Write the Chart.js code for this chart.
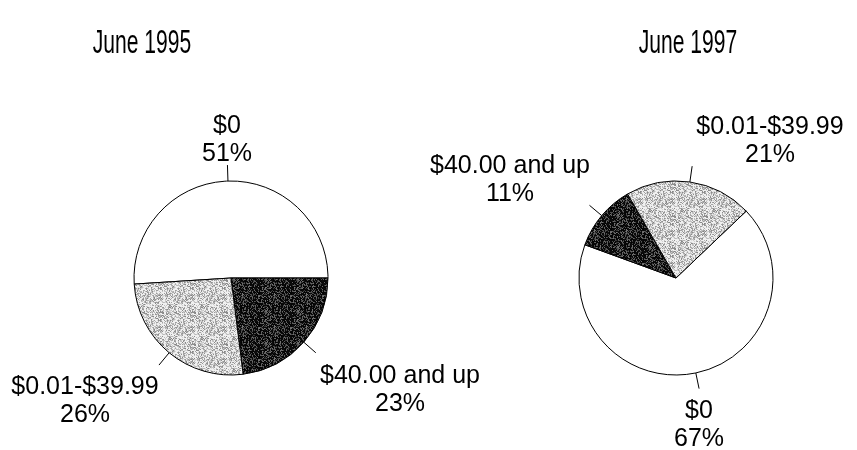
<!DOCTYPE html>
<html>
<head>
<meta charset="utf-8">
<script src="https://cdn.jsdelivr.net/npm/chart.js@4/dist/chart.umd.min.js"></script>
<style>
  body { margin: 0; background: #fff; }
  #wrap { position: relative; width: 857px; height: 450px; overflow: hidden; }
  canvas { position: absolute; left: 0; top: 0; }
  .ttl { position: absolute; top: 24px; font: 34px "Liberation Sans", Arial, sans-serif; line-height: 34px;
         color: #000; transform: translateX(-50%) scaleX(0.62); white-space: nowrap; }
</style>
</head>
<body>
<div id="wrap">
  <canvas id="pie95" width="857" height="450"></canvas>
  <canvas id="pie97" width="857" height="450"></canvas>
  <div class="ttl" id="t95" style="left:142px">June 1995</div>
  <div class="ttl" id="t97" style="left:688px">June 1997</div>
</div>
<script>
var categories = ['$0', '$40.00 and up', '$0.01-$39.99'];
var share1995 = [51, 23, 26];
var share1997 = [67, 11, 21];

// where each label block sits against its tick: -1 to the left, 0 centred, 1 to the right
var anchor1995 = [0, 1, -1];
var anchor1997 = [0, -1, 1];

// fine grey stipple tiles, like the printed screens
function hash(x, y) {
    var h = Math.imul(x + 1, 0x9E3779B1) ^ Math.imul(y + 7, 0x85EBCA77);
    h ^= h >>> 15; h = Math.imul(h, 0x2C1B3C6D);
    h ^= h >>> 12; h = Math.imul(h, 0x297A2D39);
    h ^= h >>> 15;
    return (h >>> 0) / 4294967296;
}
function stipple(pick) {
    var c = document.createElement('canvas');
    c.width = 32; c.height = 32;
    var g = c.getContext('2d');
    for (var y = 0; y < 32; y++) {
        for (var x = 0; x < 32; x++) {
            var v = pick(hash(x, y));
            g.fillStyle = 'rgb(' + v + ',' + v + ',' + v + ')';
            g.fillRect(x, y, 1, 1);
        }
    }
    return g.createPattern(c, 'repeat');
}
var darkFill = stipple(function(h) { return h < 0.6 ? Math.round(h * 25) : Math.round(50 + (h - 0.6) * 180); });
var lightFill = stipple(function(h) { return h < 0.4 ? 240 : Math.round(130 + (h - 0.4) * 160); });
var fills = ['#ffffff', darkFill, lightFill];

var sliceLabels = {
    id: 'sliceLabels',
    afterDatasetsDraw: function(chart, args, opts) {
        var ctx = chart.ctx;
        var meta = chart.getDatasetMeta(0);
        var values = chart.data.datasets[0].data;
        ctx.save();
        ctx.font = '25px "Liberation Sans", Arial, sans-serif';
        ctx.fillStyle = '#000';
        ctx.strokeStyle = '#000';
        ctx.lineWidth = 1;
        meta.data.forEach(function(arc, i) {
            var p = arc.getProps(['x', 'y', 'startAngle', 'endAngle', 'outerRadius']);
            var mid = (p.startAngle + p.endAngle) / 2;
            var cos = Math.cos(mid), sin = Math.sin(mid);
            var r0 = p.outerRadius, r1 = r0 + 16;
            var ex = p.x + cos * r1, ey = p.y + sin * r1;
            ctx.beginPath();
            ctx.moveTo(p.x + cos * r0, p.y + sin * r0);
            ctx.lineTo(ex, ey);
            ctx.stroke();
            var lines = [chart.data.labels[i], values[i] + '%'];
            var w = Math.max.apply(null, lines.map(function(t) { return ctx.measureText(t).width; }));
            var a = opts.anchor[i];
            var cx = ex + a * (w / 2 + (a > 0 ? 4 : 0));
            var base = sin >= 0 ? ey + 29 + 6 * Math.max(cos, 0) * (1 - sin) : ey - 4 - 28;
            ctx.textAlign = 'center';
            ctx.textBaseline = 'alphabetic';
            lines.forEach(function(t, k) { ctx.fillText(t, Math.round(cx), Math.round(base + k * 28)); });
        });
        ctx.restore();
    }
};

function makePie(id, values, rotation, pad, anchor) {
    return new Chart(document.getElementById(id), {
        type: 'pie',
        data: {
            labels: categories,
            datasets: [{
                data: values,
                backgroundColor: fills,
                borderColor: '#000',
                borderWidth: 1,
                hoverOffset: 0,
                offset: 0
            }]
        },
        options: {
            responsive: false,
            animation: false,
            devicePixelRatio: 1,
            rotation: rotation,
            radius: 97,
            layout: { padding: pad },
            events: [],
            plugins: {
                legend: { display: false },
                tooltip: { enabled: false },
                title: { display: false },
                sliceLabels: { anchor: anchor }
            }
        },
        plugins: [sliceLabels]
    });
}

makePie('pie95', share1995, 266.4, { left: 131, right: 526, top: 178, bottom: 72 }, anchor1995);
makePie('pie97', share1997, 46.4, { left: 576, right: 81, top: 178, bottom: 72 }, anchor1997);
</script>
</body>
</html>
